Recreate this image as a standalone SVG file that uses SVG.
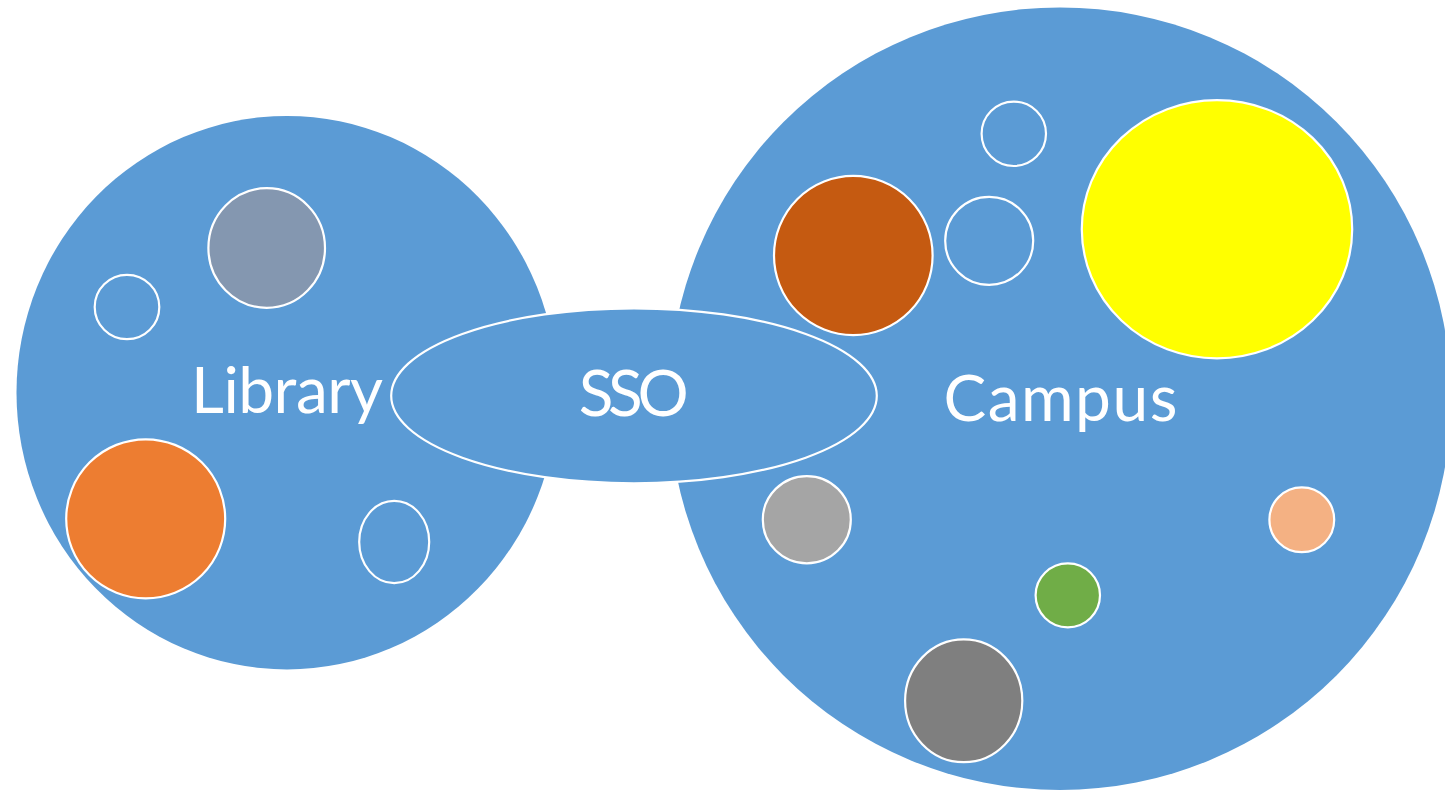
<svg xmlns="http://www.w3.org/2000/svg" width="1445" height="793" viewBox="0 0 1445 793">
  <style>
    .area { fill: #5B9BD5; stroke: none; }
    .item { stroke: #FFFFFF; stroke-width: 2.2; }
    .empty { fill: #5B9BD5; }
    .label { font-family: Lato, "Liberation Sans", sans-serif; font-size: 64px; fill: #FFFFFF; text-anchor: middle; }
  </style>
  <rect x="0" y="0" width="1445" height="793" fill="#FFFFFF"/>

  <g id="library">
    <ellipse class="area" cx="287" cy="392.7" rx="270.5" ry="276.7"/>
    <ellipse class="item" fill="#8497B0" cx="266.7" cy="248" rx="58.3" ry="59.8"/>
    <ellipse class="item empty" cx="127" cy="307" rx="32.3" ry="32.2"/>
    <ellipse class="item" fill="#ED7D31" cx="145.7" cy="518.8" rx="79.5" ry="79.5"/>
    <ellipse class="item empty" cx="394.2" cy="542" rx="35" ry="41.2"/>
    <text class="label" x="287" y="413.3" textLength="192">Library</text>
  </g>

  <g id="campus">
    <ellipse class="area" cx="1060" cy="398.7" rx="391" ry="391.3"/>
    <ellipse class="item empty" cx="1013.8" cy="133.8" rx="32.2" ry="32.2"/>
    <ellipse class="item empty" cx="989.2" cy="240.8" rx="44" ry="44"/>
    <ellipse class="item" fill="#C55A11" cx="853.3" cy="255.5" rx="79.3" ry="79.6"/>
    <ellipse class="item" fill="#FFFF00" cx="1217" cy="229.2" rx="135.2" ry="129.1"/>
    <ellipse class="item" fill="#A5A5A5" cx="806.8" cy="519.7" rx="44" ry="43.6"/>
    <ellipse class="item" fill="#70AD47" cx="1067.8" cy="595.3" rx="32.2" ry="32"/>
    <ellipse class="item" fill="#7F7F7F" cx="963.7" cy="700.8" rx="58.6" ry="61.4"/>
    <ellipse class="item" fill="#F4B183" cx="1301.8" cy="519.8" rx="32.4" ry="32.4"/>
    <text class="label" x="1060.4" y="421" textLength="234">Campus</text>
  </g>

  <g id="sso">
    <ellipse class="item" fill="#5B9BD5" cx="634" cy="395.8" rx="242.8" ry="87.5"/>
    <text class="label" x="633.7" y="415.7" textLength="110">SSO</text>
  </g>

  <g id="connectors"></g>
</svg>
